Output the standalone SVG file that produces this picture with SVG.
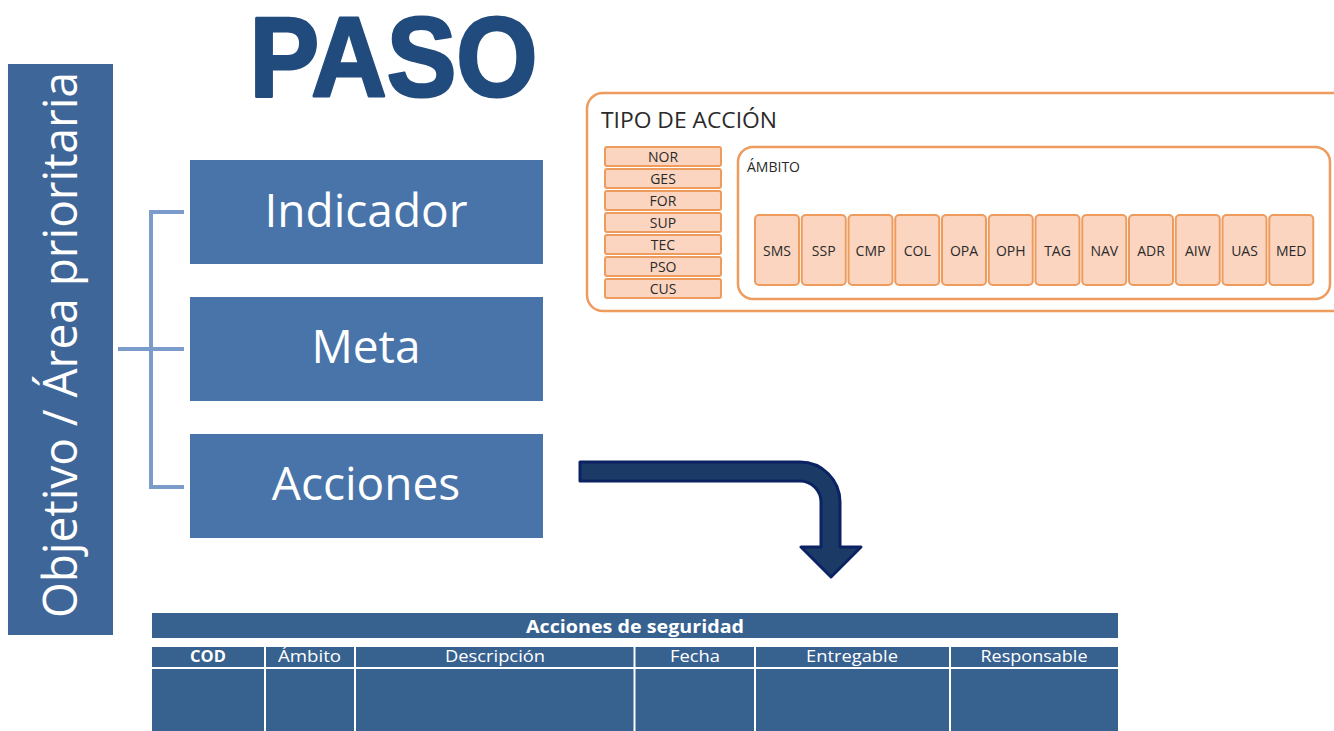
<svg xmlns="http://www.w3.org/2000/svg" width="1334" height="731" viewBox="0 0 1334 731">
<style>
.bx{fill:#4874AA}
.bt{font-family:"Open Sans",sans-serif;font-size:46px;fill:#fff;text-anchor:middle}
.br{fill:none;stroke:#7B9BCB;stroke-width:4}
.org{fill:#fff;stroke:#EE9B5E;stroke-width:2.5}
.pc{fill:#FBD5C0;stroke:#EE9B5E;stroke-width:2}
.st{font-family:"Open Sans",sans-serif;font-size:14px;fill:#2a2a2a;text-anchor:middle}
.tb{fill:#37618F}
.th{font-family:"Open Sans",sans-serif;font-size:16.5px;fill:#fff;text-anchor:middle}
.dv{stroke:#fff;stroke-width:2}
</style>
<rect width="1334" height="731" fill="#fff"/>

<g id="titulo">
<text x="249.5" y="95.5" font-family="Liberation Sans,Arial,sans-serif" font-weight="bold" font-size="113" fill="#214A7D" stroke="#214A7D" stroke-width="3" stroke-linejoin="round" textLength="288" lengthAdjust="spacingAndGlyphs">PASO</text>
</g>

<g id="objetivo">
<rect x="8" y="64" width="105" height="571" fill="#3F6698"/>
<text transform="translate(77,618) rotate(-90)" font-family="Open Sans,sans-serif" font-size="47" fill="#fff" textLength="546" lengthAdjust="spacingAndGlyphs">Objetivo / Área prioritaria</text>
</g>

<g id="connectors">
<path class="br" d="M184 212 H151 V487 H184 M118 349 H184"/>
<path d="M580 462 H800 A40 40 0 0 1 840 502 V547 H861 L831 577 L801 547 H821 V502 A21 21 0 0 0 800 481 H580 Z" fill="#1C3A66" stroke="#0C2363" stroke-width="3" stroke-linejoin="round"/>
</g>

<g id="indicador">
<rect class="bx" x="190" y="160" width="353" height="104"/>
<text class="bt" x="366" y="227">Indicador</text>
</g>
<g id="meta">
<rect class="bx" x="190" y="297" width="353" height="104"/>
<text class="bt" x="366" y="363">Meta</text>
</g>
<g id="acciones">
<rect class="bx" x="190" y="434" width="353" height="104"/>
<text class="bt" x="366" y="500">Acciones</text>
</g>

<g id="tipo-accion">
<rect class="org" x="587" y="93" width="780" height="218" rx="16"/>
<text x="601" y="128" font-family="Open Sans,sans-serif" font-size="21" fill="#2a2a2a" textLength="176" lengthAdjust="spacingAndGlyphs">TIPO DE ACCIÓN</text>
<rect class="pc" x="605" y="147" width="116" height="19" rx="2"/><text class="st" x="663" y="162">NOR</text>
<rect class="pc" x="605" y="169" width="116" height="19" rx="2"/><text class="st" x="663" y="184">GES</text>
<rect class="pc" x="605" y="191" width="116" height="19" rx="2"/><text class="st" x="663" y="206">FOR</text>
<rect class="pc" x="605" y="213" width="116" height="19" rx="2"/><text class="st" x="663" y="228">SUP</text>
<rect class="pc" x="605" y="235" width="116" height="19" rx="2"/><text class="st" x="663" y="250">TEC</text>
<rect class="pc" x="605" y="257" width="116" height="19" rx="2"/><text class="st" x="663" y="272">PSO</text>
<rect class="pc" x="605" y="279" width="116" height="19" rx="2"/><text class="st" x="663" y="294">CUS</text>
</g>

<g id="ambito">
<rect class="org" x="738" y="147" width="592" height="152" rx="15"/>
<text x="747" y="172" font-family="Open Sans,sans-serif" font-size="14" fill="#2a2a2a">ÁMBITO</text>
<rect class="pc" x="755" y="215" width="44" height="70" rx="4"/><text class="st" x="777" y="256">SMS</text>
<rect class="pc" x="801.75" y="215" width="44" height="70" rx="4"/><text class="st" x="823.75" y="256">SSP</text>
<rect class="pc" x="848.5" y="215" width="44" height="70" rx="4"/><text class="st" x="870.5" y="256">CMP</text>
<rect class="pc" x="895.25" y="215" width="44" height="70" rx="4"/><text class="st" x="917.25" y="256">COL</text>
<rect class="pc" x="942" y="215" width="44" height="70" rx="4"/><text class="st" x="964" y="256">OPA</text>
<rect class="pc" x="988.75" y="215" width="44" height="70" rx="4"/><text class="st" x="1010.75" y="256">OPH</text>
<rect class="pc" x="1035.5" y="215" width="44" height="70" rx="4"/><text class="st" x="1057.5" y="256">TAG</text>
<rect class="pc" x="1082.25" y="215" width="44" height="70" rx="4"/><text class="st" x="1104.25" y="256">NAV</text>
<rect class="pc" x="1129" y="215" width="44" height="70" rx="4"/><text class="st" x="1151" y="256">ADR</text>
<rect class="pc" x="1175.75" y="215" width="44" height="70" rx="4"/><text class="st" x="1197.75" y="256">AIW</text>
<rect class="pc" x="1222.5" y="215" width="44" height="70" rx="4"/><text class="st" x="1244.5" y="256">UAS</text>
<rect class="pc" x="1269.25" y="215" width="44" height="70" rx="4"/><text class="st" x="1291.25" y="256">MED</text>
</g>

<g id="tabla">
<rect class="tb" x="152" y="613" width="966" height="25"/>
<text x="635" y="633" font-family="Open Sans,sans-serif" font-size="18" font-weight="bold" fill="#fff" text-anchor="middle" textLength="218" lengthAdjust="spacingAndGlyphs">Acciones de seguridad</text>
<rect class="tb" x="152" y="647" width="966" height="20"/>
<rect class="tb" x="152" y="669" width="966" height="62"/>
<line class="dv" x1="265" y1="647" x2="265" y2="731"/>
<line class="dv" x1="355" y1="647" x2="355" y2="731"/>
<line class="dv" x1="634.5" y1="647" x2="634.5" y2="731"/>
<line class="dv" x1="755" y1="647" x2="755" y2="731"/>
<line class="dv" x1="950" y1="647" x2="950" y2="731"/>
<text class="th" x="208" y="662" font-weight="bold">COD</text>
<text class="th" x="309.5" y="662" textLength="63" lengthAdjust="spacingAndGlyphs">Ámbito</text>
<text class="th" x="495" y="662" textLength="100" lengthAdjust="spacingAndGlyphs">Descripción</text>
<text class="th" x="695" y="662" textLength="50" lengthAdjust="spacingAndGlyphs">Fecha</text>
<text class="th" x="852" y="662" textLength="92" lengthAdjust="spacingAndGlyphs">Entregable</text>
<text class="th" x="1034" y="662" textLength="107" lengthAdjust="spacingAndGlyphs">Responsable</text>
</g>
</svg>
